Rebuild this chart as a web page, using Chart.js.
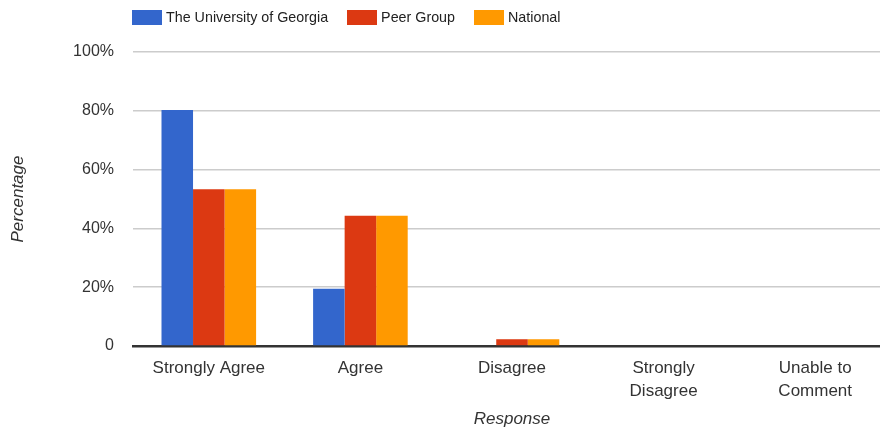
<!DOCTYPE html>
<html lang="en">
<head>
<meta charset="UTF-8">
<title>Response by group</title>
<script src="https://cdn.jsdelivr.net/npm/chart.js@4.4.1/dist/chart.umd.min.js"></script>
<style>
  * { box-sizing: border-box; margin: 0; padding: 0; }
  html, body { width: 880px; height: 431px; overflow: hidden; background: #fff; }
  body { position: relative; font-family: "Liberation Sans", Arial, sans-serif; }
  .wrap { position: absolute; left: 0; top: 0; width: 891px; height: 431px; }
  .legend { position: absolute; left: 132px; top: 9px; display: flex; align-items: center; font-size: 14.3px; color: #222; }
  .legend-item { display: flex; align-items: center; margin-right: 19px; }
  .legend-box { width: 30px; height: 15px; margin-right: 4px; }
</style>
</head>
<body>
<div class="wrap"><canvas id="chart"></canvas></div>
<div class="legend" id="legend"></div>

<script>
const categories = ['Strongly Agree', 'Agree', 'Disagree', ['Strongly', 'Disagree'], ['Unable to', 'Comment']];
const seriesNames = ['The University of Georgia', 'Peer Group', 'National'];
const uga = [80.3, 19.5, 0, 0, 0];
const peer = [53.3, 44.3, 2.3, 0, 0];
const national = [53.3, 44.3, 2.3, 0, 0];
const yTicks = [0, 20, 40, 60, 80, 100];
const colors = ['#3366cc', '#dc3912', '#ff9900'];

const font = '"Liberation Sans", Arial, sans-serif';

// legend drawn as html so it can sit left-aligned over the plot
const legendEl = document.getElementById('legend');
seriesNames.forEach((name, i) => {
  legendEl.innerHTML += `<div class="legend-item"><span class="legend-box" style="background:${colors[i]}"></span><span>${name}</span></div>`;
});

new Chart(document.getElementById('chart'), {
  type: 'bar',
  data: {
    labels: categories,
    datasets: [uga, peer, national].map((d, i) => ({
      label: seriesNames[i],
      data: d,
      backgroundColor: colors[i],
      borderWidth: 0,
      barPercentage: 1,
      categoryPercentage: 0.624
    }))
  },
  options: {
    responsive: true, maintainAspectRatio: false, animation: false,
    layout: { padding: { top: 52, right: 0, left: 0, bottom: 0 } },
    plugins: { legend: { display: false }, tooltip: { enabled: false } },
    scales: {
      x: {
        grid: { display: false, drawTicks: false },
        border: { display: true, color: '#333', width: 2.5 },
        ticks: { color: '#333', padding: 10, font: { family: font, size: 17, lineHeight: 1.4 } },
        title: { display: true, text: 'Response', color: '#333', padding: { top: 0, bottom: 2 },
                 font: { family: font, size: 17, style: 'italic' } },
        afterFit: s => { s.height = 85; }
      },
      y: {
        min: 0, max: 100,
        afterBuildTicks: s => { s.ticks = yTicks.map(v => ({ value: v })); },
        grid: { color: '#cccccc', lineWidth: 1.6, drawTicks: false },
        border: { display: false },
        ticks: { color: '#333', padding: 19, font: { family: font, size: 16 },
                 callback: v => v === 0 ? '0' : v + '%' },
        title: { display: true, text: 'Percentage', color: '#333', padding: { top: 8, bottom: 0 },
                 font: { family: font, size: 17, style: 'italic' } },
        afterFit: s => { s.width = 133; }
      }
    }
  }
});
</script>
</body>
</html>
